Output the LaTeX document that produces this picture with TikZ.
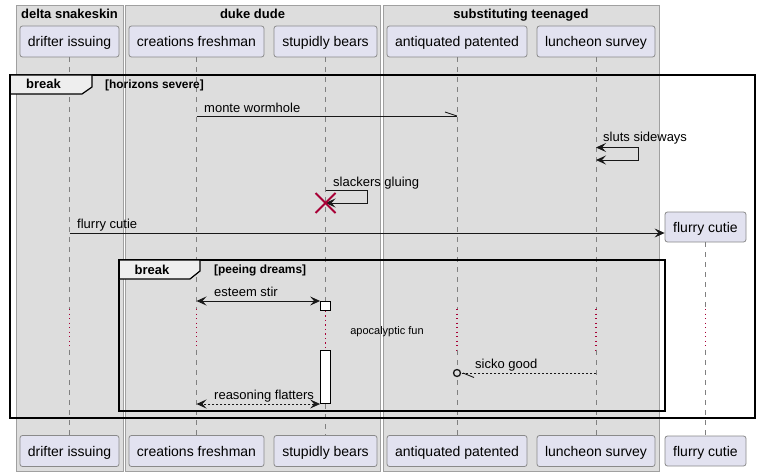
\documentclass[tikz,border=0pt]{standalone}
\usepackage{fontspec}
\setmainfont{Liberation Sans}
\usetikzlibrary{arrows.meta}
\definecolor{grpfill}{HTML}{DDDDDD}
\definecolor{grpline}{HTML}{A0A0A0}
\definecolor{partfill}{HTML}{E2E2F0}
\definecolor{partline}{HTML}{8A8A8A}
\definecolor{lifecol}{HTML}{808080}
\definecolor{crimsonx}{HTML}{A80036}
\definecolor{tabfill}{HTML}{EEEEEE}
\definecolor{msgcol}{HTML}{181818}
\tikzset{
  grp/.style={draw=grpline, fill=grpfill, line width=0.8pt},
  grptitle/.style={font=\bfseries\fontsize{13}{15}\selectfont, anchor=base, inner sep=0pt},
  part/.style={draw=partline, fill=partfill, rounded corners=2.5pt, line width=0.8pt,
    minimum height=31pt, inner sep=0pt, text height=11pt, text depth=0pt,
    font=\fontsize{14}{16}\selectfont},
  lifel/.style={draw=lifecol, line width=0.8pt, dash pattern=on 5pt off 5pt},
  delayl/.style={draw=crimsonx, line width=1.1pt, dash pattern=on 1.2pt off 3.3pt},
  actbox/.style={draw=black, fill=white, line width=0.8pt, minimum width=10pt, inner sep=0pt},
  frm/.style={draw=black, line width=1.6pt},
  tabshape/.style={draw=black, fill=tabfill, line width=1.2pt},
  brklabel/.style={font=\bfseries\fontsize{13}{15}\selectfont, anchor=base, inner sep=0pt},
  guard/.style={font=\bfseries\fontsize{11.9}{13}\selectfont, anchor=base west, inner sep=0pt},
  msgtext/.style={font=\fontsize{13}{15}\selectfont, anchor=base west, inner sep=0pt},
  msg/.style={draw=msgcol, line width=0.9pt},
  tip/.style={-{Stealth[length=10pt,width=9pt,inset=4pt]}},
  tips/.style={{Stealth[length=10pt,width=9pt,inset=4pt]}-{Stealth[length=10pt,width=9pt,inset=4pt]}},
  dashmsg/.style={dash pattern=on 2pt off 2pt},
}
\begin{document}
\begin{tikzpicture}[x=1pt,y=-1pt]
\useasboundingbox (0,0) rectangle (760,476);
\fill[white] (0,0) rectangle (760,476);
% groups
\draw[grp] (16,5) rectangle (123,471);
\draw[grp] (125,5) rectangle (380,471);
\draw[grp] (383,5) rectangle (659,471);
\node[grptitle] (g1) at (69.5,18.3) {delta snakeskin};
\node[grptitle] (g2) at (252.5,18.3) {duke dude};
\node[grptitle] (g3) at (521,18.3) {substituting teenaged};
% participants top
\node[part, minimum width=99pt] (dri) at (69.5,41.5) {drifter issuing};
\node[part, minimum width=135pt] (cre) at (196.5,41.5) {creations freshman};
\node[part, minimum width=103pt] (stu) at (325.5,41.5) {stupidly bears};
\node[part, minimum width=140pt] (ant) at (457,41.5) {antiquated patented};
\node[part, minimum width=118pt] (lun) at (596,41.5) {luncheon survey};
% coordinates
\coordinate (dlyA) at (0,309);
\coordinate (dlyB) at (0,350);
\coordinate (ym1) at (0,116);
\coordinate (ym2a) at (0,147.5);
\coordinate (ym2b) at (0,160);
\coordinate (ym3a) at (0,190.7);
\coordinate (ym3b) at (0,203);
\coordinate (ym4) at (0,233);
\coordinate (ym5) at (0,301);
\coordinate (ym6) at (0,373);
\coordinate (ym7) at (0,404);
\coordinate (selfA) at (638,0);
\coordinate (selfB) at (367,0);
% bottom participants
\node[part, minimum width=99pt] (drib) at (69.5,451) {drifter issuing};
\node[part, minimum width=135pt] (creb) at (196.5,451) {creations freshman};
\node[part, minimum width=103pt] (stub) at (325.5,451) {stupidly bears};
\node[part, minimum width=140pt] (antb) at (457,451) {antiquated patented};
\node[part, minimum width=118pt] (lunb) at (596,451) {luncheon survey};
\node[part, minimum width=81pt, minimum height=30pt] (flub) at (705.5,451) {flurry cutie};
\node[part, minimum width=81pt, minimum height=30pt] (flu) at (705.5,227) {flurry cutie};
% activations
\node[actbox, minimum height=9pt, anchor=north] (act1) at (stu |- ym5) {};
\node[actbox, minimum height=53pt, anchor=south] (act2) at (stu |- ym7) {};
% lifelines
\foreach \p/\q in {dri/drib, cre/creb, ant/antb, lun/lunb}{
  \draw[lifel] (\p.south) -- (\p |- dlyA);
  \draw[delayl] (\p |- dlyA) -- (\p |- dlyB);
  \draw[lifel] (\p |- dlyB) -- (\q.north);
}
\draw[lifel] (flu.south) -- (flu |- dlyA);
\draw[delayl] (flu |- dlyA) -- (flu |- dlyB);
\draw[lifel] (flu |- dlyB) -- (flub.north);
\draw[lifel] (stu.south) -- (act1.north);
\draw[delayl] (act1.south) -- (act2.north);
\draw[lifel] (act2.south) -- (stub.north);
% redraw activations above lifelines
\node[actbox, minimum height=9pt, anchor=north] at (stu |- ym5) {};
\node[actbox, minimum height=53pt, anchor=south] at (stu |- ym7) {};
% delay text
\node[font=\fontsize{11}{13}\selectfont, anchor=base, inner sep=0pt] (dtext) at (387,334.3) {apocalyptic fun};
% outer break frame
\draw[frm] (10,75) rectangle (755,418);
\draw[tabshape] (10,75) -- (92,75) -- (92,87) -- (82,94) -- (10,94) -- cycle;
\draw[frm] (10,75) -- (10,94);
\node[brklabel] (b1) at (43.5,89) {break};
\node[guard] (gd1) at (105,88.5) {[horizons severe]};
% inner break frame
\draw[frm] (119,260) rectangle (665,411);
\draw[tabshape] (119,260) -- (200,260) -- (200,271) -- (190,279) -- (119,279) -- cycle;
\draw[frm] (119,260) -- (119,279);
\node[brklabel] (b2) at (152,274) {break};
\node[guard] (gd2) at (214,273.5) {[peeing dreams]};
% messages
\draw[msg] (cre |- ym1) -- (ant |- ym1);
\draw[msg] (ant |- ym1) -- ++(-12,-4);
\node[msgtext] at (204,112.5) {monte wormhole};

\draw[msg, tips] (lun |- ym2a) -- (selfA |- ym2a) -- (selfA |- ym2b) -- (lun |- ym2b);
\node[msgtext] at (603,142) {sluts sideways};

\draw[msg, tip] (stu |- ym3a) -- (selfB |- ym3a) -- (selfB |- ym3b) -- (stu |- ym3b);
\node[msgtext] at (333,186) {slackers gluing};
\draw[crimsonx, line width=1.8pt] (stu |- ym3b) ++(-10,-10) -- ++(20,20);
\draw[crimsonx, line width=1.8pt] (stu |- ym3b) ++(-10,10) -- ++(20,-20);

\draw[msg, tip] (dri |- ym4) -- (flu.west |- ym4);
\node[msgtext] at (77,228.7) {flurry cutie};

\draw[msg, tips] (cre |- ym5) -- (act1.north west);
\node[msgtext] at (214,296.7) {esteem stir};

\draw[msg, dashmsg] (lun |- ym6) -- ([xshift=4pt]ant |- ym6);
\draw[msgcol, line width=1.3pt, fill=grpfill] (ant |- ym6) circle (3.5pt);
\draw[msg] ([xshift=6pt]ant |- ym6) -- ++(11,4.5);
\node[msgtext] at (475,368.7) {sicko good};

\draw[msg, tips, dashmsg] (act2.south west) -- (cre |- ym7);
\node[msgtext] at (214,399) {reasoning flatters};
\end{tikzpicture}
\end{document}
